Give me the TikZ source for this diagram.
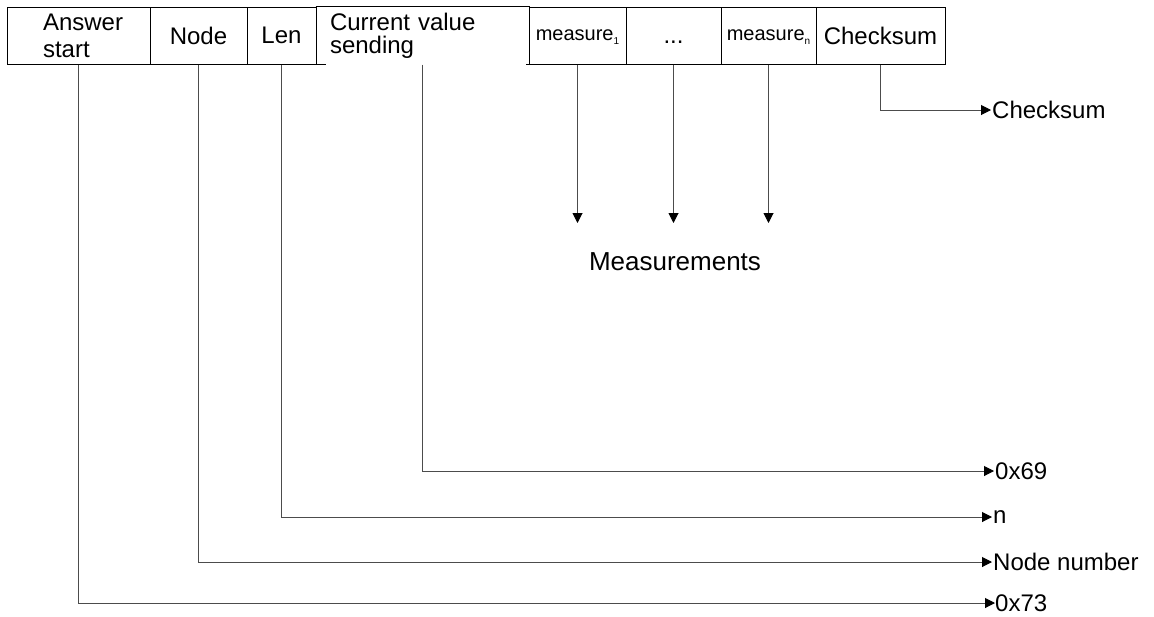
\documentclass[tikz,border=0pt]{standalone}
\usepackage{fontspec}
\setmainfont{Liberation Sans}
\usetikzlibrary{arrows.meta,positioning}
\tikzset{
  cell/.style  = {draw, line width=1pt, rectangle, minimum height=57pt,
                  inner sep=0pt, align=center, font=\fontsize{24}{27}\selectfont},
  bare/.style  = {cell, draw=none},
  small/.style = {font=\fontsize{20}{22}\selectfont},
  sig/.style   = {-{Triangle[length=10pt,width=10pt,color=black]},
                  line width=1pt, black!70},
  lbl/.style   = {anchor=west, inner sep=1pt, font=\fontsize{24}{27}\selectfont},
}
\newcommand{\msr}[1]{\vphantom{N}measure\raisebox{-4pt}{\fontsize{10}{10}\selectfont #1}}

\begin{document}
\begin{tikzpicture}[x=1pt,y=-1pt]
\useasboundingbox (0,0) rectangle (1154,616);
% frame fields
\node[cell, text width=71pt, inner xsep=36pt, align=left] (start) at (78.5,35.5)
  {Answer\\start};
\node[cell, minimum width=97pt]  (node)  at (198.5,35.5) {Node};
\node[cell, minimum width=69pt]  (len)   at (281.5,35.5) {Len};
\node[bare, text width=185pt, inner xsep=14pt, align=left] (cur) at (422.5,35.5)
  {Current value\\[-4pt]sending};
\draw[line width=1pt] (cur.north west) -- (cur.north east)
  (cur.south west) -- ++(10,0) (cur.south east) -- ++(-4,0);
\node[cell, small, minimum width=97pt] (m1) at (577.5,35.5) {\msr{1}};
\node[cell, minimum width=95pt] (dots) at (673.5,35.5) {\vphantom{N}...};
\node[cell, small, minimum width=95pt] (mn) at (768.5,35.5) {\msr{n}};
\node[cell, minimum width=129pt] (chk) at (880.5,35.5) {Checksum};
% meanings
\node[lbl] (lchk)  at (991,110) {Checksum};
\node[font=\fontsize{26}{28}\selectfont] (meas) at (675,261.5) {Measurements};
\coordinate (m1end) at (577.5,223);
\coordinate (dend)  at (673.5,223);
\coordinate (mnend) at (768.5,223);
\node[lbl] (l69)   at (994,471) {0x69};
\node[lbl] (ln)    at (992,517) {n};
\node[lbl] (lnode) at (992,562) {Node number};
\node[lbl, inner sep=0pt] (l73) at (995,603) {0x73};
\draw[sig] (chk.south) |- (lchk.west);
\draw[sig] (m1.south) -- (m1end);
\draw[sig] (dots.south) -- (dend);
\draw[sig] (mn.south) -- (mnend);
\draw[sig] (cur.south) |- (l69.west);
\draw[sig] (len.south) |- (ln.west);
\draw[sig] (node.south) |- (lnode.west);
\draw[sig] (start.south) |- (l73.west);
\end{tikzpicture}
\end{document}
